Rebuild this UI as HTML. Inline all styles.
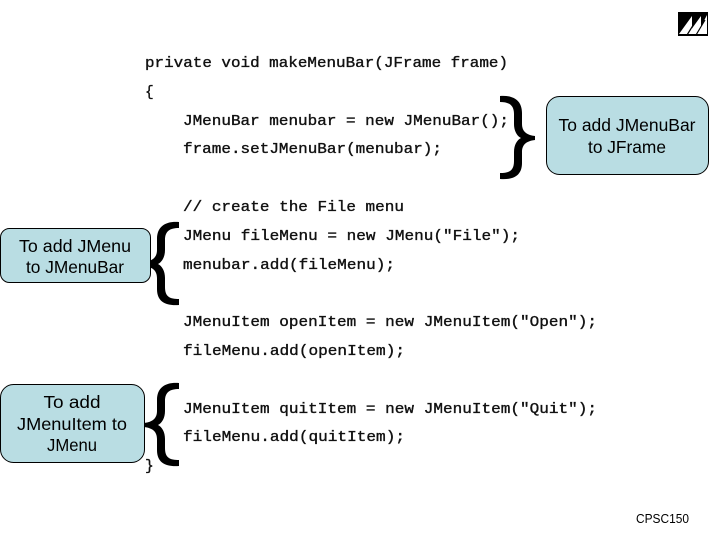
<!DOCTYPE html>
<html><head><meta charset="utf-8"><style>
html,body{margin:0;padding:0;background:#fff}
svg{display:block}
.c{font-family:"Liberation Mono",monospace;font-size:14.5px;fill:#111;stroke:#111;stroke-width:.35}
.b{font-family:"Liberation Sans",sans-serif;font-size:17.5px;fill:#000;text-anchor:middle}
.r{fill:#b9dde3;stroke:#000;stroke-width:1}
</style></head><body>
<svg width="720" height="540" viewBox="0 0 720 540" xmlns="http://www.w3.org/2000/svg">
<defs>
<path id="br" d="M500 96C513 95 522 100 522 113V124C522 131 526 135 535 136V140C526 141 522 145 522 152V163C522 176 513 180 500 179V173C509 173 514 171 514 161V152C514 145 517 140 521 138C517 136 514 131 514 124V114C514 105 509 102 500 102Z" fill="#000"/>
</defs>
<rect x="678" y="12" width="30" height="24" fill="#000"/>
<path d="M679 34L692 16V34ZM688 34L701 16V34ZM697 34L707 15V34Z" fill="#fff"/>
<path d="M687 35L697 19M696 35L705 20" stroke="#000" stroke-width="1.2"/>

<text class="c" x="145" y="67" textLength="363" lengthAdjust="spacingAndGlyphs">private void makeMenuBar(JFrame frame)</text>
<text class="c" x="145" y="96">{</text>
<text class="c" x="183" y="125" textLength="326" lengthAdjust="spacingAndGlyphs">JMenuBar menubar = new JMenuBar();</text>
<text class="c" x="183" y="153" textLength="259" lengthAdjust="spacingAndGlyphs">frame.setJMenuBar(menubar);</text>
<text class="c" x="183" y="211" textLength="221" lengthAdjust="spacingAndGlyphs">// create the File menu</text>
<text class="c" x="183" y="240" textLength="337" lengthAdjust="spacingAndGlyphs">JMenu fileMenu = new JMenu("File");</text>
<text class="c" x="183" y="269" textLength="212" lengthAdjust="spacingAndGlyphs">menubar.add(fileMenu);</text>
<text class="c" x="183" y="326" textLength="414" lengthAdjust="spacingAndGlyphs">JMenuItem openItem = new JMenuItem("Open");</text>
<text class="c" x="183" y="355" textLength="222" lengthAdjust="spacingAndGlyphs">fileMenu.add(openItem);</text>
<text class="c" x="183" y="413" textLength="414" lengthAdjust="spacingAndGlyphs">JMenuItem quitItem = new JMenuItem("Quit");</text>
<text class="c" x="183" y="441" textLength="222" lengthAdjust="spacingAndGlyphs">fileMenu.add(quitItem);</text>
<text class="c" x="145" y="470">}</text>

<use href="#br"/>
<use href="#br" transform="translate(679 126) scale(-1 1)"/>
<use href="#br" transform="translate(679 287) scale(-1 1)"/>

<rect class="r" x="546.500" y="96.500" width="162" height="78" rx="13"/>
<text class="b" x="627" y="131" textLength="137" lengthAdjust="spacingAndGlyphs">To add JMenuBar</text>
<text class="b" x="627" y="153" textLength="78" lengthAdjust="spacingAndGlyphs">to JFrame</text>

<rect class="r" x="0.500" y="228.500" width="150" height="54" rx="9"/>
<text class="b" x="75" y="252" textLength="112" lengthAdjust="spacingAndGlyphs">To add JMenu</text>
<text class="b" x="75" y="273" textLength="98" lengthAdjust="spacingAndGlyphs">to JMenuBar</text>

<rect class="r" x="0.500" y="384.500" width="144" height="78" rx="13"/>
<text class="b" x="72" y="408" textLength="57" lengthAdjust="spacingAndGlyphs">To add</text>
<text class="b" x="72" y="430" textLength="110" lengthAdjust="spacingAndGlyphs">JMenuItem to</text>
<text class="b" x="72" y="451" textLength="50" lengthAdjust="spacingAndGlyphs">JMenu</text>

<text x="636" y="523" font-family="'Liberation Sans',sans-serif" font-size="12.500" fill="#000" textLength="53" lengthAdjust="spacingAndGlyphs">CPSC150</text>
</svg>
</body></html>
